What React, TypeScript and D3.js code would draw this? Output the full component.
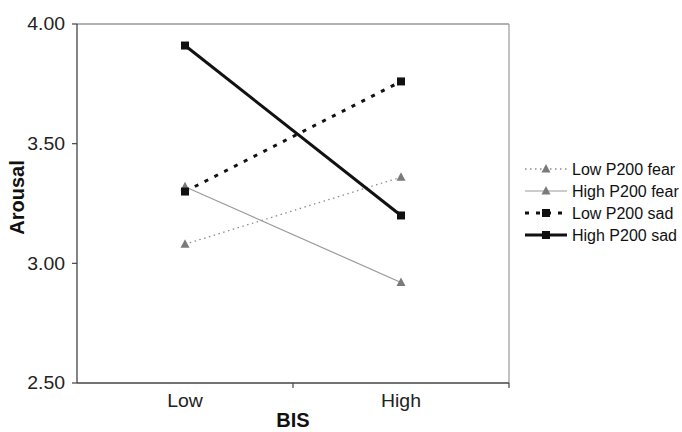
import React from 'react';
import * as d3 from 'd3';

// Valeurs
const categories = ['Low', 'High'];
const seriesNames = ['Low P200 fear', 'High P200 fear', 'Low P200 sad', 'High P200 sad'];
const lowP200Fear = [3.08, 3.36];
const highP200Fear = [3.32, 2.92];
const lowP200Sad = [3.30, 3.76];
const highP200Sad = [3.91, 3.20];
const yTicks = [2.5, 3.0, 3.5, 4.0];

const seriesValues = [lowP200Fear, highP200Fear, lowP200Sad, highP200Sad];

// styles de chaque série
const styles = [
  { stroke: '#8c8c8c', width: 1.3, dash: '1.5,3.5', marker: 'tri', fill: '#7a7a7a' },
  { stroke: '#9a9a9a', width: 1.2, dash: null, marker: 'tri', fill: '#7a7a7a' },
  { stroke: '#111', width: 3, dash: '4,7', marker: 'sq', fill: '#111' },
  { stroke: '#111', width: 3, dash: null, marker: 'sq', fill: '#111' },
];

const width = 682;
const height = 432;
const margin = { left: 77, right: 173, top: 24, bottom: 49 };

const Marker = ({ type, x, y, fill }: { type: string; x: number; y: number; fill: string }) => {
  if (type === 'sq') {
    return <rect x={x - 4} y={y - 4} width={8} height={8} fill={fill} />;
  }
  return <path d={`M${x},${y - 5}L${x + 4.5},${y + 3.5}L${x - 4.5},${y + 3.5}Z`} fill={fill} />;
};

export default function App() {
  const x = d3.scaleBand().domain(categories).range([margin.left, width - margin.right]);
  const y = d3.scaleLinear().domain([2.5, 4.0]).range([height - margin.bottom, margin.top]);
  const cx = (c: string) => (x(c) as number) + x.bandwidth() / 2;
  const line = d3.line<number>().x((_, i) => cx(categories[i])).y(d => y(d));

  const x0 = margin.left;
  const x1 = width - margin.right;
  const y0 = height - margin.bottom;
  const y1 = margin.top;

  const legendX = 525;
  const legendY = [169, 191, 213, 235];

  return (
    <svg width={width} height={height} style={{ position: 'absolute', left: 0, top: 0, background: '#fff' }}
      fontFamily="'Liberation Sans', Arial, sans-serif">
      {/* cadre de la zone de tracé */}
      <line x1={x0} x2={x1} y1={y1} y2={y1} stroke="#666" strokeWidth={1.2} />
      <line x1={x1} x2={x1} y1={y1} y2={y0} stroke="#999" strokeWidth={1.2} />

      {/* axe Y */}
      <line x1={x0} x2={x0} y1={y1} y2={y0} stroke="#444" strokeWidth={1.3} />
      {yTicks.map(t => (
        <g key={t}>
          <line x1={x0 - 5} x2={x0} y1={y(t)} y2={y(t)} stroke="#444" strokeWidth={1.2} />
          <text transform={`translate(${x0 - 12},${y(t)}) scale(1.08,1)`} dy="0.35em" textAnchor="end"
            fontSize={18} fill="#222">{t.toFixed(2)}</text>
        </g>
      ))}

      {/* axe X */}
      <line x1={x0} x2={x1} y1={y0} y2={y0} stroke="#444" strokeWidth={1.3} />
      {[x0 + x.bandwidth(), x1].map(v => (
        <line key={v} x1={v} x2={v} y1={y0} y2={y0 + 5} stroke="#444" strokeWidth={1.2} />
      ))}
      {categories.map(c => (
        <text key={c} transform={`translate(${cx(c)},${y0 + 24}) scale(1.08,1)`} textAnchor="middle"
          fontSize={18} fill="#222">{c}</text>
      ))}

      <text x={(x0 + x1) / 2} y={y0 + 44} textAnchor="middle" fontSize={20} fontWeight="bold" fill="#111">BIS</text>
      <text transform={`translate(24,${(y0 + y1) / 2 - 6}) rotate(-90)`} textAnchor="middle" fontSize={20}
        fontWeight="bold" fill="#111">Arousal</text>

      {/* séries */}
      {seriesValues.map((vals, i) => (
        <g key={seriesNames[i]}>
          <path d={line(vals) || ''} fill="none" stroke={styles[i].stroke} strokeWidth={styles[i].width}
            strokeDasharray={styles[i].dash || undefined} />
          {vals.map((v, j) => (
            <Marker key={j} type={styles[i].marker} x={cx(categories[j])} y={y(v)} fill={styles[i].fill} />
          ))}
        </g>
      ))}

      {/* légende */}
      {seriesNames.map((name, i) => (
        <g key={name}>
          <line x1={legendX} x2={legendX + 42} y1={legendY[i]} y2={legendY[i]} stroke={styles[i].stroke}
            strokeWidth={styles[i].width} strokeDasharray={styles[i].dash || undefined} />
          <Marker type={styles[i].marker} x={legendX + 21} y={legendY[i]} fill={styles[i].fill} />
          <text x={legendX + 47} y={legendY[i]} dy="0.35em" fontSize={16} fill="#111">{name}</text>
        </g>
      ))}
    </svg>
  );
}
